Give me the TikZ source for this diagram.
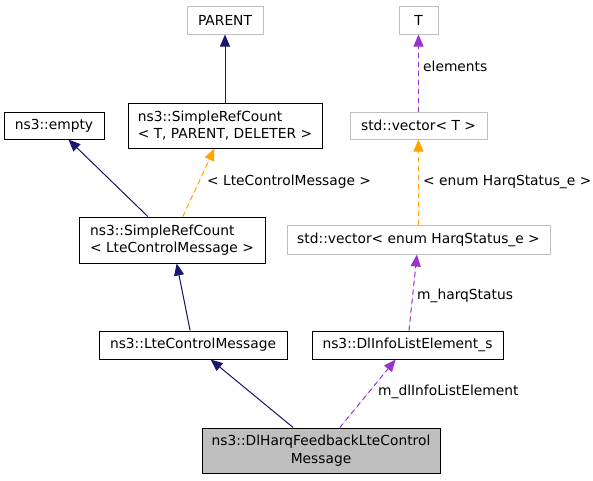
\documentclass[tikz,border=0pt]{standalone}
\usepackage{fontspec}
\setmainfont{DejaVu Sans}
\usetikzlibrary{arrows.meta}
\definecolor{navy}{HTML}{191970}
\definecolor{orng}{HTML}{FFA500}
\definecolor{purp}{HTML}{9A32CD}
\definecolor{gborder}{HTML}{BFBFBF}
\definecolor{gfill}{HTML}{BFBFBF}
\tikzset{
  box/.style={draw=black, line width=1pt, minimum width=#1, inner sep=0pt, align=left, font=\fontsize{13.8}{17.5}\selectfont},
  gbox/.style={box=#1, draw=gborder},
  inh/.style={draw=navy, fill=navy, line width=1pt, -{Triangle[length=12pt,width=10pt]}},
  tmpl/.style={draw=orng, fill=orng, line width=1pt, dash pattern=on 5pt off 4pt, -{Triangle[length=12pt,width=10pt]}},
  use/.style={draw=purp, fill=purp, line width=1pt, dash pattern=on 5pt off 4pt, -{Triangle[length=12pt,width=10pt]}},
  lbl/.style={anchor=west, inner sep=0pt, font=\fontsize{13.8}{17.5}\selectfont},
}
\begin{document}
\begin{tikzpicture}[x=1pt,y=-1pt]
\useasboundingbox[fill=white] (0,0) rectangle (593,480);
\node[gbox=76pt, minimum height=28pt] (PARENT) at (225,20) {PARENT};
\node[gbox=39pt, minimum height=28pt] (T) at (418.5,20) {T};
\node[box=100pt, minimum height=27pt] (empty) at (54,125.5) {ns3::empty};
\node[box=194pt, minimum height=45pt] (SRCT) at (225,125.5) {ns3::SimpleRefCount\\< T, PARENT, DELETER >};
\node[gbox=137pt, minimum height=27pt] (vecT) at (418.5,125.5) {std::vector< T >};
\node[box=186pt, minimum height=46pt] (SRCL) at (172,240) {ns3::SimpleRefCount\\< LteControlMessage >};
\node[gbox=263pt, minimum height=29pt] (vecE) at (418.5,239.5) {std::vector< enum HarqStatus\_e >};
\node[box=188pt, minimum height=28pt] (LCM) at (193,345) {ns3::LteControlMessage};
\node[box=191pt, minimum height=28pt] (DIL) at (407.5,345) {ns3::DlInfoListElement\_s};
\node[box=238pt, minimum height=45pt, fill=gfill, align=center] (DH) at (321,450.5) {ns3::DlHarqFeedbackLteControl\\Message};

\draw[inh] (SRCT) -- (PARENT);
\draw[inh] (SRCL) -- (empty);
\draw[tmpl] (SRCL) -- (SRCT);
\draw[use] (vecT) -- (T);
\draw[tmpl] (vecE) -- (vecT);
\draw[inh] (LCM) -- (SRCL);
\draw[use] (DIL) -- (vecE);
\draw[inh] (DH) -- (LCM);
\draw[use] (DH) -- (DIL);

\node[lbl] (l1) at (207,181.5) {< LteControlMessage >};
\node[lbl] (l2) at (423,66) {elements};
\node[lbl] (l3) at (423,181.5) {< enum HarqStatus\_e >};
\node[lbl] (l4) at (417,296) {m\_harqStatus};
\node[lbl] (l5) at (378,392) {m\_dlInfoListElement};
\end{tikzpicture}
\end{document}
